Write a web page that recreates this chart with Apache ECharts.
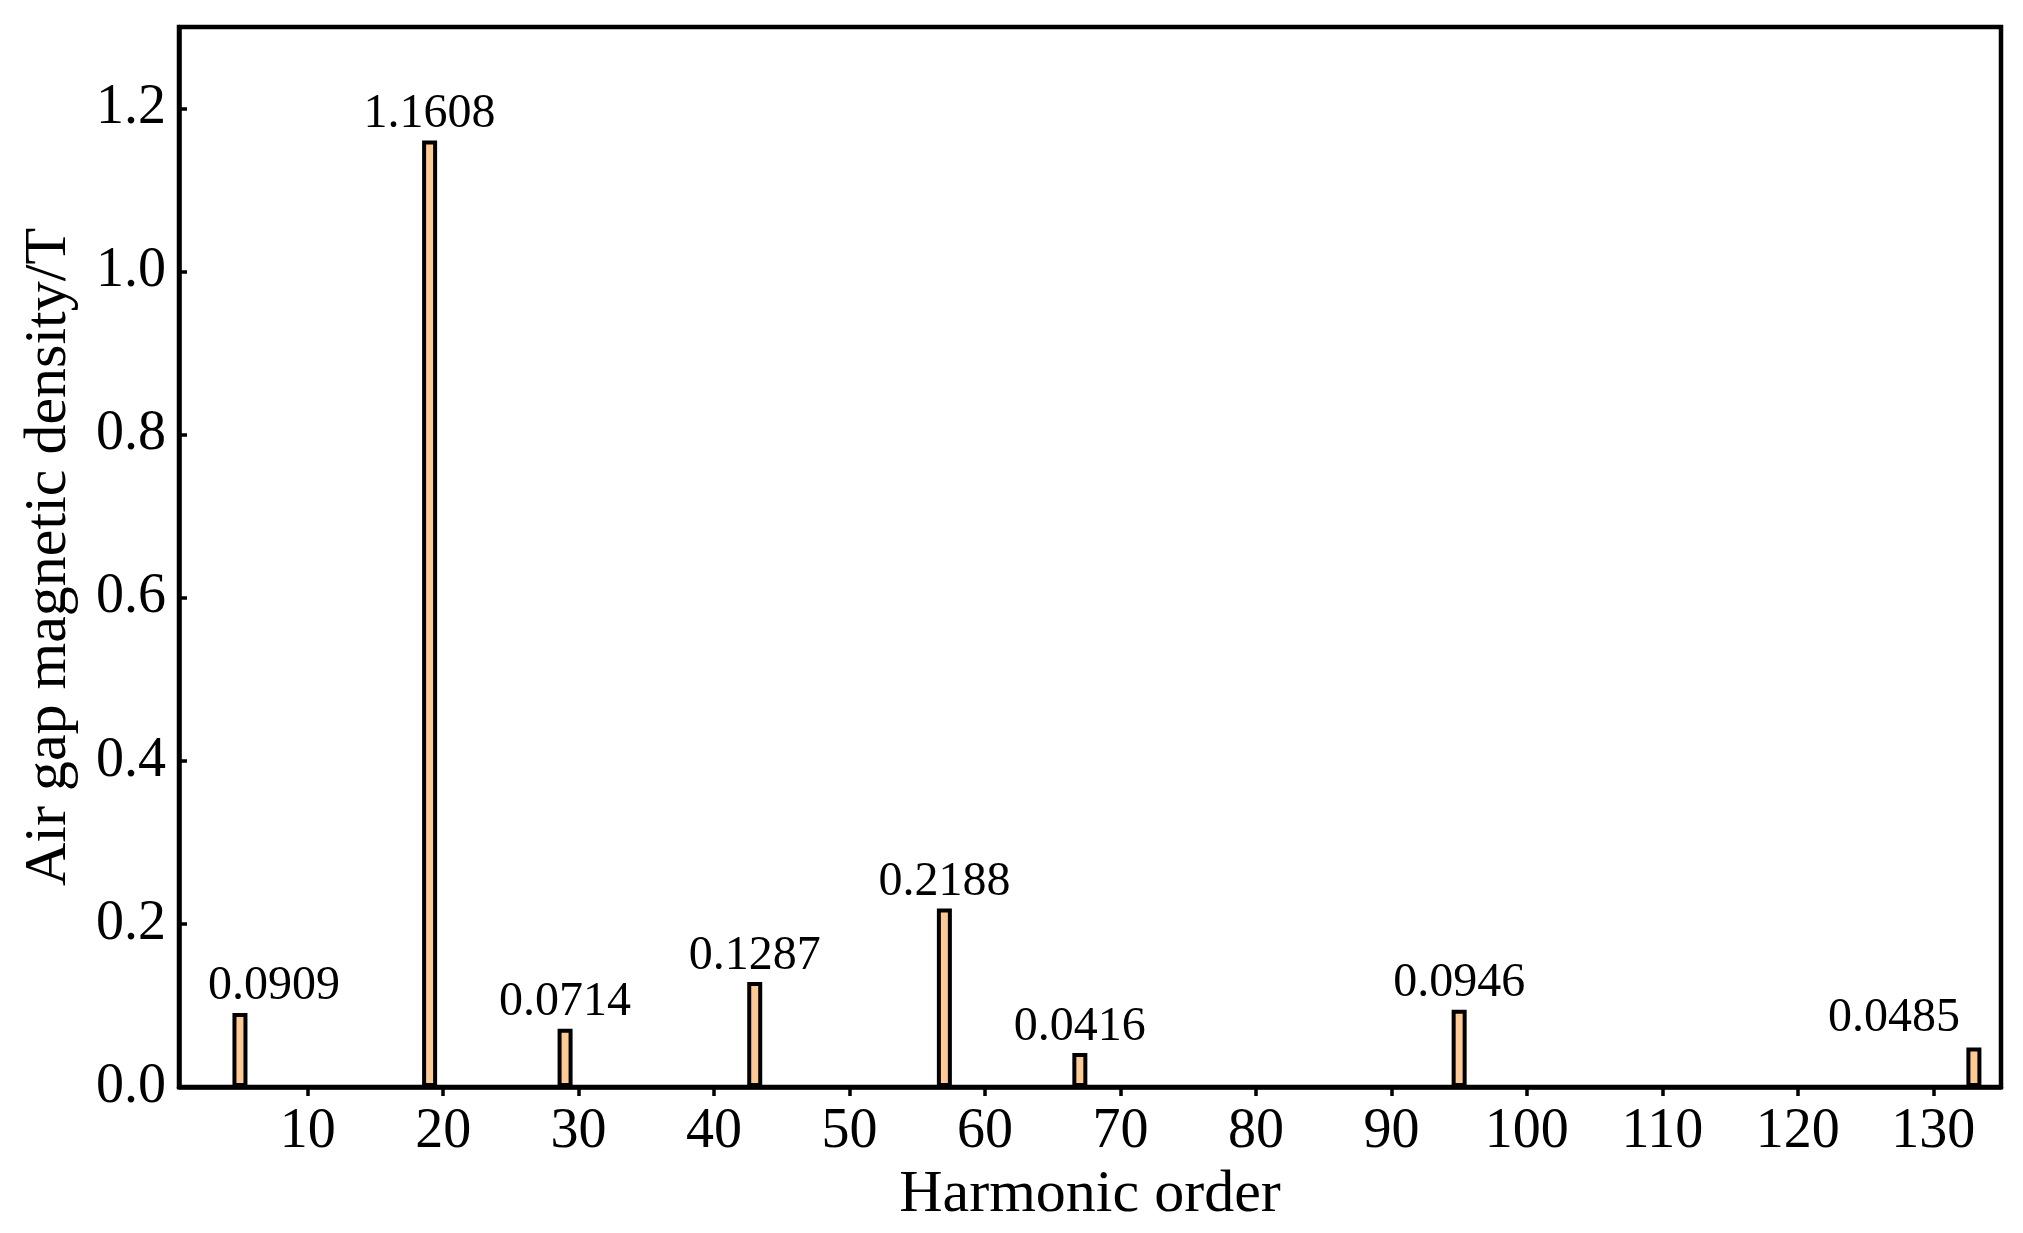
<!DOCTYPE html>
<html>
<head>
<meta charset="utf-8">
<title>Air gap magnetic density harmonics</title>
<script src="https://cdn.jsdelivr.net/npm/echarts@6/dist/echarts.min.js"></script>
<style>
  html, body { margin: 0; padding: 0; background: #fff; }
  #chart { width: 2023px; height: 1233px; }
</style>
</head>
<body>
<div id="chart"></div>
<script>
  // harmonic spectrum, values
  var orders = [5, 19, 29, 43, 57, 67, 95, 133];
  var densities = [0.0909, 1.1608, 0.0714, 0.1287, 0.2188, 0.0416, 0.0946, 0.0485];
  var xTicks = [10, 20, 30, 40, 50, 60, 70, 80, 90, 100, 110, 120, 130];
  var yTicks = [0, 0.2, 0.4, 0.6, 0.8, 1.0, 1.2];

  // labels nudged sideways in the original (index -> px)
  var labelShift = {0: [34, 0], 7: [-80, -3]};

  var font = "'Liberation Serif', 'Times New Roman', serif";

  var seriesData = orders.map(function (o, i) {
    var item = {value: [o, densities[i]]};
    if (labelShift[i]) {
      item.label = {offset: labelShift[i]};
    }
    return item;
  });

  var myChart = echarts.init(document.getElementById('chart'));
  var option = {
    animation: false,
    backgroundColor: '#fff',
    grid: {
      left: 179,
      top: 27,
      width: 1822,
      height: 1060,
      show: true,
      borderColor: '#000',
      borderWidth: 4.5,
      backgroundColor: 'transparent',
      containLabel: false,
      outerBoundsMode: 'none'
    },
    xAxis: {
      type: 'value',
      min: 0.5,
      max: 135,
      name: 'Harmonic order',
      nameLocation: 'middle',
      nameGap: 73,
      nameTextStyle: {fontFamily: font, fontSize: 60, color: '#000'},
      axisLine: {show: true, lineStyle: {color: '#000', width: 4.5}},
      axisTick: {show: true, inside: false, length: 9, customValues: xTicks,
        lineStyle: {color: '#000', width: 3.5}},
      axisLabel: {show: true, margin: 17, customValues: xTicks,
        fontFamily: font, fontSize: 56, color: '#000'},
      splitLine: {show: false}
    },
    yAxis: {
      type: 'value',
      min: 0,
      max: 1.3,
      name: 'Air gap magnetic density/T',
      nameLocation: 'middle',
      nameGap: 100,
      nameTextStyle: {fontFamily: font, fontSize: 60, color: '#000'},
      axisLine: {show: true, lineStyle: {color: '#000', width: 4.5}},
      axisTick: {show: true, inside: true, length: 8, customValues: yTicks,
        lineStyle: {color: '#000', width: 3.5}},
      axisLabel: {show: true, margin: 13, customValues: yTicks,
        fontFamily: font, fontSize: 56, color: '#000',
        formatter: function (v) { return v.toFixed(1); }},
      splitLine: {show: false}
    },
    series: [{
      type: 'bar',
      barWidth: 15,
      data: seriesData,
      itemStyle: {color: '#FDCA96', borderColor: '#000', borderWidth: 4},
      label: {
        show: true,
        position: 'top',
        distance: 2,
        fontFamily: font,
        fontSize: 48,
        color: '#000',
        formatter: function (p) { return p.value[1].toFixed(4); }
      }
    }]
  };
  myChart.setOption(option);
</script>
</body>
</html>
